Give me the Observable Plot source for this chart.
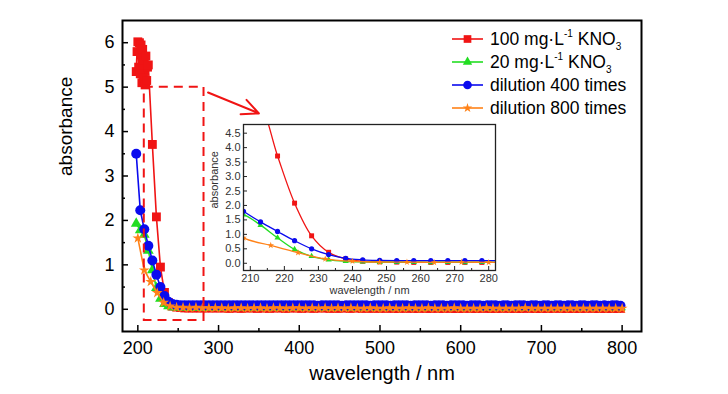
<!DOCTYPE html>
<html><head><meta charset="utf-8">
<script src="https://cdn.jsdelivr.net/npm/d3@7"></script>
<script src="https://cdn.jsdelivr.net/npm/@observablehq/plot@0.6"></script>
<style>
html,body{margin:0;padding:0;background:#fff;}
#wrap{position:relative;width:728px;height:394px;font-family:"Liberation Sans",Arial,sans-serif;}
#wrap svg{position:absolute;left:0;top:0;overflow:visible;}
</style></head><body><div id="wrap"></div>
<script>
// ---------- data ----------
const seriesNames = ["100 mg·L-1 KNO3", "20 mg·L-1 KNO3", "dilution 400 times", "dilution 800 times"];
const wl5 = [198,203,208,213,218,223,228,233,238,243,248,253,258,263,268,273,278,283,288,293,298,
303,308,313,318,323,328,333,338,343,348,353,358,363,368,373,378,383,388,393,398,
403,408,413,418,423,428,433,438,443,448,453,458,463,468,473,478,483,488,493,498,
503,508,513,518,523,528,533,538,543,548,553,558,563,568,573,578,583,588,593,598,
603,608,613,618,623,628,633,638,643,648,653,658,663,668,673,678,683,688,693,698,
703,708,713,718,723,728,733,738,743,748,753,758,763,768,773,778,783,788,793,798];
const red = [5.35,5.30,5.60,5.50,3.71,2.08,0.95,0.38,0.15,0.07,0.05,0.04,0.03,0.03,0.03,0.03,0.03,0.03,0.03,0.03,0.03,
0.03,0.03,0.02,0.03,0.03,0.02,0.03,0.03,0.03,0.02,0.03,0.03,0.02,0.03,0.03,0.03,0.02,0.03,0.03,0.03,
0.02,0.03,0.03,0.02,0.03,0.03,0.03,0.02,0.03,0.02,0.03,0.03,0.02,0.03,0.03,0.02,0.03,0.02,0.03,0.02,
0.03,0.02,0.03,0.02,0.02,0.03,0.02,0.03,0.02,0.02,0.03,0.02,0.02,0.03,0.02,0.02,0.03,0.02,0.02,0.02,
0.02,0.03,0.02,0.02,0.02,0.03,0.02,0.02,0.02,0.02,0.03,0.02,0.02,0.02,0.02,0.02,0.03,0.02,0.02,0.02,
0.02,0.02,0.02,0.03,0.02,0.02,0.02,0.02,0.02,0.02,0.02,0.03,0.02,0.02,0.02,0.02,0.02,0.02,0.02,0.02];
const redNoiseWl = [199,200,201,202,204,205,206,207,209,210,211,212];
const redNoise = [5.80,6.02,5.45,6.00,5.95,5.10,5.85,5.20,5.05,5.70,5.15,5.45];
const green = [1.93,1.78,1.68,1.32,0.88,0.48,0.24,0.12,0.07,0.05,0.04,0.04,0.04,0.03,0.04,0.03,0.04,0.03,0.04,0.04,0.04,
0.04,0.04,0.05,0.04,0.04,0.05,0.04,0.04,0.04,0.05,0.04,0.04,0.05,0.04,0.04,0.04,0.05,0.04,0.04,0.05,
0.04,0.05,0.04,0.04,0.05,0.04,0.05,0.04,0.04,0.05,0.04,0.05,0.04,0.04,0.05,0.04,0.05,0.04,0.05,0.04,
0.05,0.04,0.05,0.04,0.05,0.05,0.04,0.05,0.04,0.05,0.05,0.04,0.05,0.05,0.04,0.05,0.05,0.04,0.05,0.05,
0.05,0.04,0.05,0.05,0.05,0.04,0.05,0.05,0.05,0.05,0.04,0.05,0.05,0.05,0.05,0.05,0.04,0.05,0.05,0.05,
0.05,0.05,0.05,0.04,0.05,0.05,0.05,0.05,0.05,0.05,0.05,0.04,0.05,0.05,0.05,0.05,0.05,0.05,0.05,0.05];
const blue = [3.50,2.23,1.80,1.43,1.10,0.78,0.50,0.30,0.17,0.12,0.10,0.09,0.09,0.09,0.09,0.09,0.09,0.09,0.09,0.09,0.09,
0.09,0.09,0.09,0.09,0.09,0.09,0.09,0.09,0.09,0.09,0.09,0.09,0.09,0.09,0.09,0.09,0.09,0.09,0.09,0.09,
0.09,0.09,0.09,0.09,0.08,0.09,0.09,0.09,0.09,0.09,0.08,0.09,0.09,0.09,0.09,0.09,0.09,0.08,0.09,0.09,
0.09,0.09,0.08,0.09,0.09,0.09,0.09,0.08,0.09,0.09,0.09,0.09,0.08,0.09,0.09,0.09,0.08,0.09,0.09,0.09,
0.09,0.08,0.09,0.09,0.09,0.08,0.09,0.09,0.09,0.08,0.09,0.09,0.08,0.09,0.09,0.09,0.08,0.09,0.09,0.08,
0.09,0.09,0.08,0.09,0.09,0.08,0.09,0.09,0.08,0.09,0.09,0.08,0.09,0.09,0.08,0.09,0.08,0.09,0.09,0.08];
const wl8 = [200,208,216,224,232,240,248,256,264,272,280,288,296,
304,312,320,328,336,344,352,360,368,376,384,392,400,
408,416,424,432,440,448,456,464,472,480,488,496,
504,512,520,528,536,544,552,560,568,576,584,592,600,
608,616,624,632,640,648,656,664,672,680,688,696,
704,712,720,728,736,744,752,760,768,776,784,792,800];
const orange = [1.60,0.88,0.62,0.37,0.15,0.07,0.04,0.04,0.03,0.04,0.03,0.03,0.03,
0.03,0.02,0.03,0.03,0.02,0.03,0.03,0.02,0.03,0.03,0.02,0.03,0.03,
0.02,0.03,0.02,0.03,0.02,0.03,0.02,0.03,0.02,0.02,0.03,0.02,
0.02,0.03,0.02,0.02,0.03,0.02,0.02,0.03,0.02,0.02,0.02,0.03,0.02,
0.02,0.02,0.02,0.03,0.02,0.02,0.02,0.02,0.02,0.03,0.02,0.02,
0.02,0.02,0.02,0.02,0.02,0.02,0.02,0.02,0.02,0.02,0.02,0.02,0.02];
// axis ticks
const xMajor = [200,300,400,500,600,700,800];
const xMinor = [250,350,450,550,650,750];
const yMajor = [0,1,2,3,4,5,6];
const yMinor = [0.5,1.5,2.5,3.5,4.5,5.5];
const insetXMajor = [210,220,230,240,250,260,270,280];
const insetXMinor = [215,225,235,245,255,265,275];
const insetYMajor = [0,0.5,1,1.5,2,2.5,3,3.5,4,4.5];
// zoom annotation (data units)
const zoomBox = [{x1:208, x2:282, y1:-0.25, y2:5}];
const arrowPts = [{x1:287, y1:4.88, x2:350, y2:4.41}];

// ---------- build ----------
const RED="#f01414", GREEN="#22dd22", BLUE="#0a0aee", ORANGE="#ff8218";
const pts = (xs, ys) => xs.map((x,i)=>({x, y:ys[i]}));
const redPts = pts(wl5, red).concat(pts(redNoiseWl, redNoise)).sort((a,b)=>a.x-b.x);
const series = [
  {name:seriesNames[0], data:redPts, color:RED, symbol:"square", r:5, ri:2.8},
  {name:seriesNames[1], data:pts(wl5, green), color:GREEN, symbol:"triangle", r:4, ri:2.3},
  {name:seriesNames[2], data:pts(wl5, blue), color:BLUE, symbol:"circle", r:5, ri:2.6},
  {name:seriesNames[3], data:pts(wl8, orange), color:ORANGE, symbol:"star", r:3.4, ri:2.1}
];
const FONT = "Liberation Sans, Arial, sans-serif";
const empty = () => "";

const mainMarks = [];
for (const s of series) {
  mainMarks.push(Plot.line(s.data, {x:"x", y:"y", stroke:s.color, strokeWidth:1.6}));
  mainMarks.push(Plot.dot(s.data, {x:"x", y:"y", symbol:s.symbol, r:s.r, fill:s.color, stroke:"none"}));
}
mainMarks.push(
  Plot.rect(zoomBox, {x1:"x1", x2:"x2", y1:"y1", y2:"y2", fill:"none", stroke:RED, strokeWidth:2, strokeDasharray:"9,6"}),
  Plot.arrow(arrowPts, {x1:"x1", y1:"y1", x2:"x2", y2:"y2", stroke:RED, strokeWidth:2, headLength:14, headAngle:50}),
  Plot.frame({stroke:"#000", strokeWidth:2}),
  Plot.axisX({ticks:xMajor, tickSize:6, dy:-6, tickFormat:empty, label:null, strokeWidth:1.5}),
  Plot.axisX({ticks:xMinor, tickSize:3, dy:-3, tickFormat:empty, label:null, strokeWidth:1.5}),
  Plot.axisX({ticks:xMajor, tickSize:0, tickPadding:10, fontSize:18, label:null, tickFormat:d3.format("d")}),
  Plot.axisY({ticks:yMajor, tickSize:6, dx:6, tickFormat:empty, label:null, strokeWidth:1.5}),
  Plot.axisY({ticks:yMinor, tickSize:3, dx:3, tickFormat:empty, label:null, strokeWidth:1.5}),
  Plot.axisY({ticks:yMajor, tickSize:0, tickPadding:8, fontSize:18, label:null, tickFormat:d3.format("d")}),
  Plot.text(["absorbance"], {frameAnchor:"left", dx:-57, rotate:-90, fontSize:19}),
  Plot.text(["wavelength / nm"], {frameAnchor:"bottom", dy:48, fontSize:20})
);

const main = Plot.plot({
  width:728, height:394, marginLeft:122, marginRight:87, marginTop:20, marginBottom:63,
  style:{fontFamily:FONT, background:"transparent", color:"#000"},
  x:{domain:[181,824]}, y:{domain:[-0.5,6.5]},
  marks: mainMarks
});
document.getElementById("wrap").appendChild(main);

// legend
const lg = d3.select(main).append("g").attr("font-family", FONT).attr("font-size", 17.5)
  .attr("fill", "#000").attr("text-anchor", "start");
const symMap = {square:d3.symbolSquare, triangle:d3.symbolTriangle, circle:d3.symbolCircle, star:d3.symbolStar};
series.forEach((s, i) => {
  const y = 39 + i*23;
  lg.append("line").attr("x1",452).attr("x2",483).attr("y1",y).attr("y2",y).attr("stroke",s.color).attr("stroke-width",1.6);
  lg.append("path").attr("d", d3.symbol(symMap[s.symbol], Math.PI*s.r*s.r*0.75)()).attr("transform",`translate(467.5,${y})`).attr("fill",s.color);
  const t = lg.append("text").attr("x",490).attr("y",y+6).attr("text-anchor","start");
  const m = s.name.match(/^(.*L)-1 KNO3$/);
  if (m) {
    t.append("tspan").text(m[1]);
    t.append("tspan").attr("font-size",10).attr("dy",-8).text("-1");
    t.append("tspan").attr("dy",8).text(" KNO");
    t.append("tspan").attr("font-size",10).attr("dy",5).text("3");
  } else {
    t.text(s.name);
  }
});

// inset
const insetMarks = [];
for (const s of series) {
  const d = s.data.filter(p => p.x >= 195 && p.x <= 300);
  insetMarks.push(Plot.line(d, {x:"x", y:"y", stroke:s.color, strokeWidth:1.3, curve:"catmull-rom", clip:true}));
  insetMarks.push(Plot.dot(d, {x:"x", y:"y", symbol:s.symbol, r:s.ri, fill:s.color, stroke:"none", clip:true}));
}
insetMarks.push(
  Plot.frame({stroke:"#222", strokeWidth:1.3}),
  Plot.axisX({ticks:insetXMajor, tickSize:4, dy:-4, tickFormat:empty, label:null}),
  Plot.axisX({ticks:insetXMinor, tickSize:2, dy:-2, tickFormat:empty, label:null}),
  Plot.axisX({ticks:insetXMajor, tickSize:0, tickPadding:4, fontSize:11, label:null, fill:"#333"}),
  Plot.axisY({ticks:insetYMajor, tickSize:4, dx:4, tickFormat:empty, label:null}),
  Plot.axisY({ticks:insetYMajor, tickSize:0, tickPadding:3, fontSize:11, label:null, tickFormat:d3.format(".1f"), fill:"#333"}),
  Plot.text(["absorbance"], {frameAnchor:"left", dx:-29, dy:11, rotate:-90, fontSize:11, fill:"#333"}),
  Plot.text(["wavelength / nm"], {frameAnchor:"bottom", dy:23, fontSize:11, fill:"#333"})
);
const inset = Plot.plot({
  width:292, height:183, marginLeft:35, marginRight:5, marginTop:5, marginBottom:32,
  style:{fontFamily:FONT, background:"transparent", color:"#222"},
  x:{domain:[208,282]}, y:{domain:[-0.25,4.8]},
  marks: insetMarks
});
inset.style.left = "208px";
inset.style.top = "119px";
document.getElementById("wrap").appendChild(inset);
</script>
</body></html>
